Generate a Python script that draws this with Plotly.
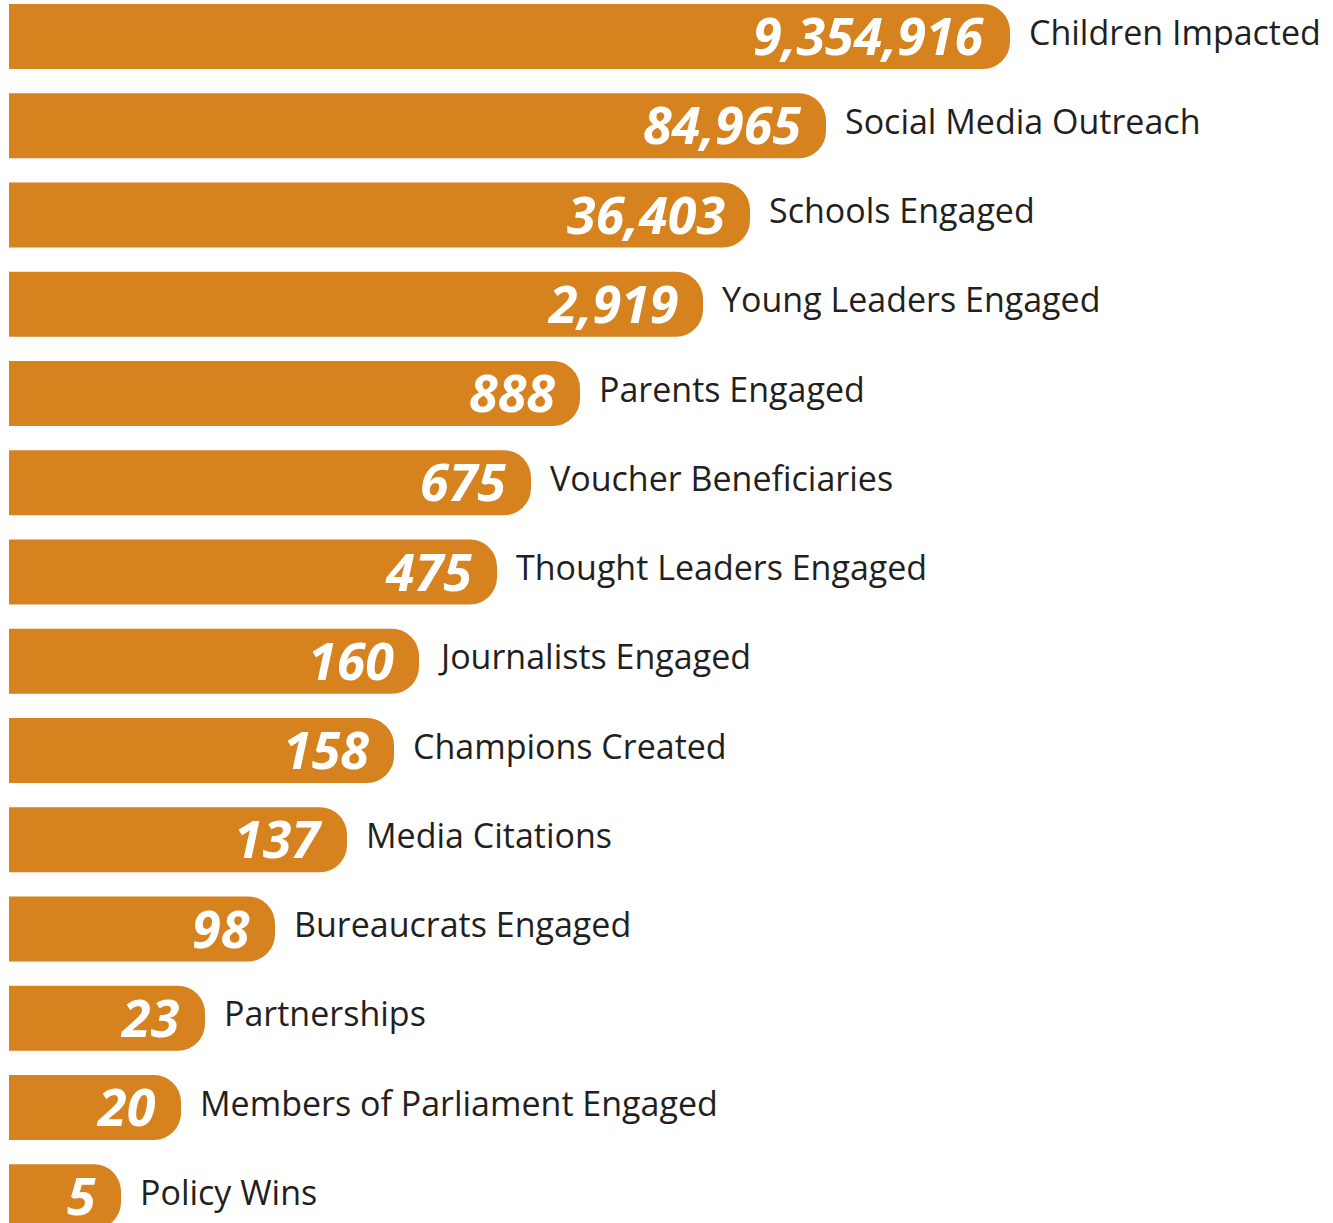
import plotly.graph_objects as go

# metrics shown on the infographic (top to bottom)
labels = [
    "Children Impacted", "Social Media Outreach", "Schools Engaged",
    "Young Leaders Engaged", "Parents Engaged", "Voucher Beneficiaries",
    "Thought Leaders Engaged", "Journalists Engaged", "Champions Created",
    "Media Citations", "Bureaucrats Engaged", "Partnerships",
    "Members of Parliament Engaged", "Policy Wins",
]
values = [9354916, 84965, 36403, 2919, 888, 675, 475, 160, 158, 137, 98, 23, 20, 5]
# bars are not to scale in the original; drawn length read off the graphic
bar_length = [1001, 817, 741, 694, 571, 522, 488, 410, 385, 338, 266, 196, 172, 112]

rows = list(range(len(labels)))
orange = "#D5821F"

fig = go.Figure(go.Bar(
    x=bar_length,
    y=rows,
    orientation="h",
    width=0.728,
    marker=dict(color=orange, cornerradius=27, line=dict(width=0)),
    hoverinfo="skip",
))

for r, v, L, lab in zip(rows, values, bar_length, labels):
    fig.add_annotation(
        x=L, y=r, text=f"{v:,}", showarrow=False,
        xanchor="right", xshift=-23, yshift=2,
        font=dict(family="Open Sans", size=52, color="white",
                  weight="bold", style="italic"),
    )
    fig.add_annotation(
        x=L, y=r, text=lab, showarrow=False,
        xanchor="left", xshift=17, yshift=5,
        font=dict(family="Open Sans", size=34, color="#231F20"),
    )

fig.update_layout(
    width=1333, height=1223,
    margin=dict(l=0, r=0, t=0, b=0),
    paper_bgcolor="white", plot_bgcolor="white",
    showlegend=False,
)
fig.update_xaxes(range=[-9, 1324], visible=False)
fig.update_yaxes(range=[13.294, -0.409], visible=False)

# drop the browser's default body margin so the figure fills the window
fig.write_html("out.html", config={"displayModeBar": False},
               post_script="document.body.style.margin='0';")
